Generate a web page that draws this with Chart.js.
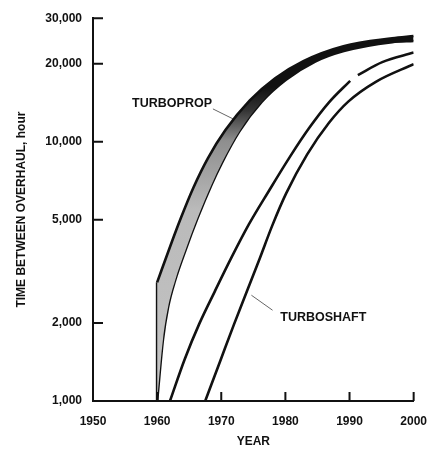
<!DOCTYPE html>
<html>
<head>
<meta charset="utf-8">
<script src="https://cdn.jsdelivr.net/npm/chart.js@4.4.1/dist/chart.umd.min.js"></script>
<style>
  html, body { margin: 0; padding: 0; background: #fff; }
  #wrap { width: 440px; height: 452px; }
</style>
</head>
<body>
<div id="wrap"><canvas id="chart"></canvas></div>
<script>
// axis ticks
const yTicks = [1000, 2000, 5000, 10000, 20000, 30000];
const xTicks = [1950, 1960, 1970, 1980, 1990, 2000];

// turboprop band (upper and lower edge), hours vs year
const propUpperYear  = [1960, 1962, 1963.7, 1965.65, 1967.95, 1970.65, 1974.45, 1978.4, 1982.8, 1989.05, 1996.65, 2000];
const propUpperHours = [2870, 3930, 5080, 6650, 8670, 11100, 14450, 17600, 20500, 23400, 25100, 25600];
const propLowerYear  = [1960, 1960.9, 1961.7, 1962.8, 1964.4, 1966.3, 1968.5, 1970.1, 1972.8, 1976.3, 1980.1, 1984.65, 1989.1, 1996.65, 2000];
const propLowerHours = [1000, 1720, 2300, 2920, 3810, 5080, 6850, 8300, 10950, 14250, 17350, 20400, 22400, 24250, 24500];
// left edge of the band at 1960
const propEdgeYear  = [1960, 1960];
const propEdgeHours = [1000, 2870];

// turboshaft, two curves (the upper one is broken near 1990)
const shaftAYear  = [1962, 1964.3, 1966.55, 1969, 1971.6, 1974.3, 1977.35, 1980.7, 1983.7, 1986.8, 1990.1, 1990.7, 1991.3, 1995.1, 2000];
const shaftAHours = [1000, 1450, 1980, 2650, 3580, 4800, 6420, 8750, 11300, 14200, 17200, null, 18100, 20300, 22100];
const shaftBYear  = [1967.5, 1969.9, 1972, 1974, 1976, 1977.95, 1980.1, 1983.4, 1986.8, 1989.8, 1994.1, 2000];
const shaftBHours = [1000, 1440, 1980, 2650, 3550, 4750, 6310, 8950, 11850, 14300, 17050, 19950];

// label leaders
const propLeaderYear   = [1968.7, 1972.6];
const propLeaderHours  = [13400, 12000];
const shaftLeaderYear  = [1978.0, 1974.7];
const shaftLeaderHours = [2240, 2560];

const pts = (xs, ys) => xs.map((x, i) => ({x: x, y: ys[i]}));

const INK = '#111';
const FONT = 'Liberation Sans, Arial, sans-serif';
Chart.defaults.font.family = FONT;

// label text anchored in data space
const notes = [
  {text: 'TURBOPROP', year: 1956.1, hours: 14000},
  {text: 'TURBOSHAFT', year: 1979.2, hours: 2100}
];

const inwardTicks = {
  id: 'inwardTicks',
  afterDraw(chart) {
    const {ctx, chartArea, scales: {x, y}} = chart;
    ctx.save();
    ctx.strokeStyle = INK;
    ctx.lineWidth = 2;
    ctx.beginPath();
    yTicks.forEach(v => {
      const py = y.getPixelForValue(v);
      ctx.moveTo(chartArea.left, py);
      ctx.lineTo(chartArea.left + 10, py);
    });
    xTicks.forEach(v => {
      const px = x.getPixelForValue(v);
      ctx.moveTo(px, chartArea.bottom);
      ctx.lineTo(px, chartArea.bottom - 9);
    });
    ctx.stroke();

    ctx.fillStyle = INK;
    ctx.font = 'bold 12.5px ' + FONT;
    ctx.textBaseline = 'middle';
    ctx.textAlign = 'left';
    notes.forEach(n => {
      ctx.fillText(n.text, x.getPixelForValue(n.year), y.getPixelForValue(n.hours));
    });
    ctx.restore();
  }
};

function bandShade(context) {
  const {ctx, chartArea} = context.chart;
  if (!chartArea) return 'rgba(0,0,0,0.3)';
  const g = ctx.createLinearGradient(0, chartArea.bottom, 0, chartArea.top);
  g.addColorStop(0, '#c4c4c4');
  g.addColorStop(0.5, '#bababa');
  g.addColorStop(0.68, '#8e8e8e');
  g.addColorStop(0.76, '#333');
  g.addColorStop(0.82, '#111');
  g.addColorStop(1, '#111');
  return g;
}

const lineBase = {borderColor: INK, borderWidth: 2.6, pointRadius: 0, fill: false};

new Chart(document.getElementById('chart'), {
  type: 'line',
  data: {
    datasets: [
      {...lineBase, label: 'Turboprop upper', data: pts(propUpperYear, propUpperHours),
        cubicInterpolationMode: 'monotone', fill: '+1', backgroundColor: bandShade},
      {...lineBase, label: 'Turboprop lower', data: pts(propLowerYear, propLowerHours),
        cubicInterpolationMode: 'monotone'},
      {...lineBase, label: 'Turboprop edge', data: pts(propEdgeYear, propEdgeHours), tension: 0},
      {...lineBase, label: 'Turboshaft A', data: pts(shaftAYear, shaftAHours),
        cubicInterpolationMode: 'monotone', spanGaps: false},
      {...lineBase, label: 'Turboshaft B', data: pts(shaftBYear, shaftBHours),
        cubicInterpolationMode: 'monotone'},
      {...lineBase, label: 'leader 1', data: pts(propLeaderYear, propLeaderHours),
        borderColor: '#666', borderWidth: 1, tension: 0},
      {...lineBase, label: 'leader 2', data: pts(shaftLeaderYear, shaftLeaderHours),
        borderColor: '#666', borderWidth: 1, tension: 0}
    ]
  },
  options: {
    responsive: true,
    maintainAspectRatio: false,
    animation: false,
    layout: {padding: {top: 17, right: 18, left: 0, bottom: 0}},
    plugins: {
      legend: {display: false},
      tooltip: {enabled: false}
    },
    scales: {
      x: {
        type: 'linear',
        min: 1950,
        max: 2000,
        afterBuildTicks: s => { s.ticks = xTicks.map(v => ({value: v})); },
        afterFit: s => { s.height = 51; },
        grid: {drawOnChartArea: false, drawTicks: false},
        border: {color: INK, width: 2},
        ticks: {
          padding: 13, maxRotation: 0, autoSkip: false, color: INK,
          font: {size: 12, weight: 'bold'},
          callback: v => String(v)
        },
        title: {
          display: true, text: 'YEAR', color: INK,
          font: {size: 12, weight: 'bold'},
          padding: {top: 0, bottom: 3}
        }
      },
      y: {
        type: 'logarithmic',
        min: 1000,
        max: 30000,
        afterBuildTicks: s => { s.ticks = yTicks.map(v => ({value: v})); },
        afterFit: s => { s.width = 93; },
        grid: {drawOnChartArea: false, drawTicks: false},
        border: {color: INK, width: 2},
        ticks: {
          padding: 11, color: INK,
          font: {size: 12, weight: 'bold'},
          callback: v => Number(v).toLocaleString('en-US')
        },
        title: {
          display: true, text: 'TIME BETWEEN OVERHAUL, hour', color: INK,
          font: {size: 12, weight: 'bold'},
          padding: {top: 14, bottom: 0}
        }
      }
    }
  },
  plugins: [inwardTicks]
});
</script>
</body>
</html>
